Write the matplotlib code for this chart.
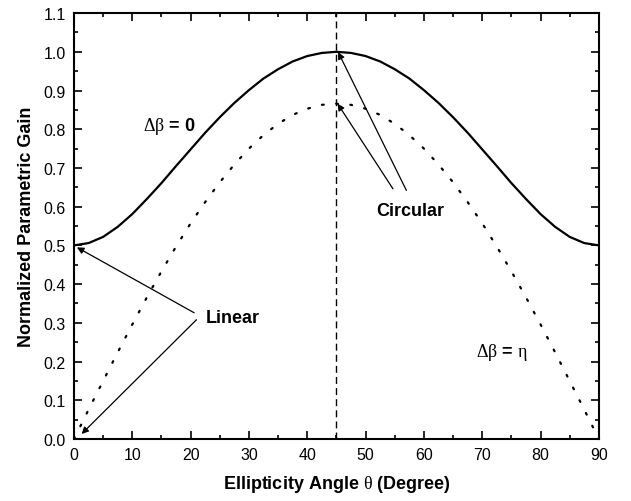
import matplotlib
matplotlib.use("Agg")
import matplotlib.pyplot as plt
from matplotlib.ticker import MultipleLocator

plt.rcParams['font.family'] = ['Liberation Sans', 'DejaVu Sans']
plt.rcParams['mathtext.fontset'] = 'custom'
plt.rcParams['mathtext.rm'] = 'Liberation Serif'
plt.rcParams['mathtext.it'] = 'Liberation Serif:italic'
plt.rcParams['mathtext.bf'] = 'Liberation Serif:bold'

# Data (every 2.5 degrees)
theta = [0, 2.5, 5, 7.5, 10, 12.5, 15, 17.5, 20, 22.5, 25, 27.5, 30, 32.5, 35, 37.5, 40, 42.5, 45,
         47.5, 50, 52.5, 55, 57.5, 60, 62.5, 65, 67.5, 70, 72.5, 75, 77.5, 80, 82.5, 85, 87.5, 90]
gain_db0 = [0.500, 0.506, 0.522, 0.548, 0.581, 0.620, 0.661, 0.705, 0.748, 0.791, 0.831, 0.868,
            0.901, 0.931, 0.955, 0.975, 0.989, 0.997, 1.000,
            0.997, 0.989, 0.975, 0.955, 0.931, 0.901, 0.868, 0.831, 0.791, 0.748, 0.705, 0.661,
            0.620, 0.581, 0.548, 0.522, 0.506, 0.500]
gain_eta = [0.000, 0.076, 0.150, 0.224, 0.296, 0.366, 0.433, 0.497, 0.557, 0.612, 0.663, 0.709,
            0.750, 0.785, 0.814, 0.837, 0.853, 0.863, 0.866,
            0.863, 0.853, 0.837, 0.814, 0.785, 0.750, 0.709, 0.663, 0.612, 0.557, 0.497, 0.433,
            0.366, 0.296, 0.224, 0.150, 0.076, 0.000]
x_ticks = [0, 10, 20, 30, 40, 50, 60, 70, 80, 90]
y_ticks = [0.0, 0.1, 0.2, 0.3, 0.4, 0.5, 0.6, 0.7, 0.8, 0.9, 1.0, 1.1]

fig = plt.figure(figsize=(6.31, 5.02), dpi=100)
ax = fig.add_axes([0.1173, 0.1235, 0.8317, 0.8485])

ax.plot(theta, gain_db0, color='black', lw=1.6, solid_capstyle='butt')
ax.plot(theta, gain_eta, color='black', lw=1.6, linestyle=(0, (0.8, 5.6)),
        dash_capstyle='round')
ax.axvline(45, color='black', lw=1.0, linestyle=(0, (5, 3)))

ax.set_xlim(0, 90)
ax.set_ylim(0, 1.1)
ax.set_xticks(x_ticks)
ax.set_yticks(y_ticks)
ax.set_yticklabels([f"{v:.1f}" for v in y_ticks])
ax.xaxis.set_minor_locator(MultipleLocator(5))
ax.yaxis.set_minor_locator(MultipleLocator(0.05))
ax.tick_params(which='both', direction='in', top=True, right=True, width=1.2,
               labelsize=11.5, colors='black')
ax.tick_params(which='major', length=6, pad=6)
ax.tick_params(which='minor', length=3)
for s in ax.spines.values():
    s.set_linewidth(1.5)

ax.set_xlabel(r"Ellipticity Angle $\mathrm{\theta}$ (Degree)", fontsize=13,
              fontweight='bold', labelpad=8)
ax.set_ylabel("Normalized Parametric Gain", fontsize=13, fontweight='bold', labelpad=6)

ax.text(16.3, 0.81, r"$\mathrm{\Delta\beta}$ = 0", fontsize=13, fontweight='bold',
        ha='center', va='center')
ax.text(73.4, 0.225, r"$\mathrm{\Delta\beta}$ = $\mathrm{\eta}$", fontsize=13,
        fontweight='bold', ha='center', va='center')
ax.text(57.6, 0.589, "Circular", fontsize=13, fontweight='bold', ha='center', va='center')
ax.text(27.3, 0.315, "Linear", fontsize=13, fontweight='bold', ha='center', va='center')

ap = dict(arrowstyle='-|>', lw=0.9, color='black', mutation_scale=10,
          shrinkA=0, shrinkB=0)
ax.annotate("", xy=(45.3, 0.999), xytext=(57.0, 0.642), arrowprops=ap)
ax.annotate("", xy=(45.2, 0.866), xytext=(54.7, 0.646), arrowprops=ap)
ax.annotate("", xy=(0.5, 0.495), xytext=(20.6, 0.326), arrowprops=ap)
ax.annotate("", xy=(1.3, 0.013), xytext=(21.0, 0.308), arrowprops=ap)

fig.savefig("out.png", dpi=100)
